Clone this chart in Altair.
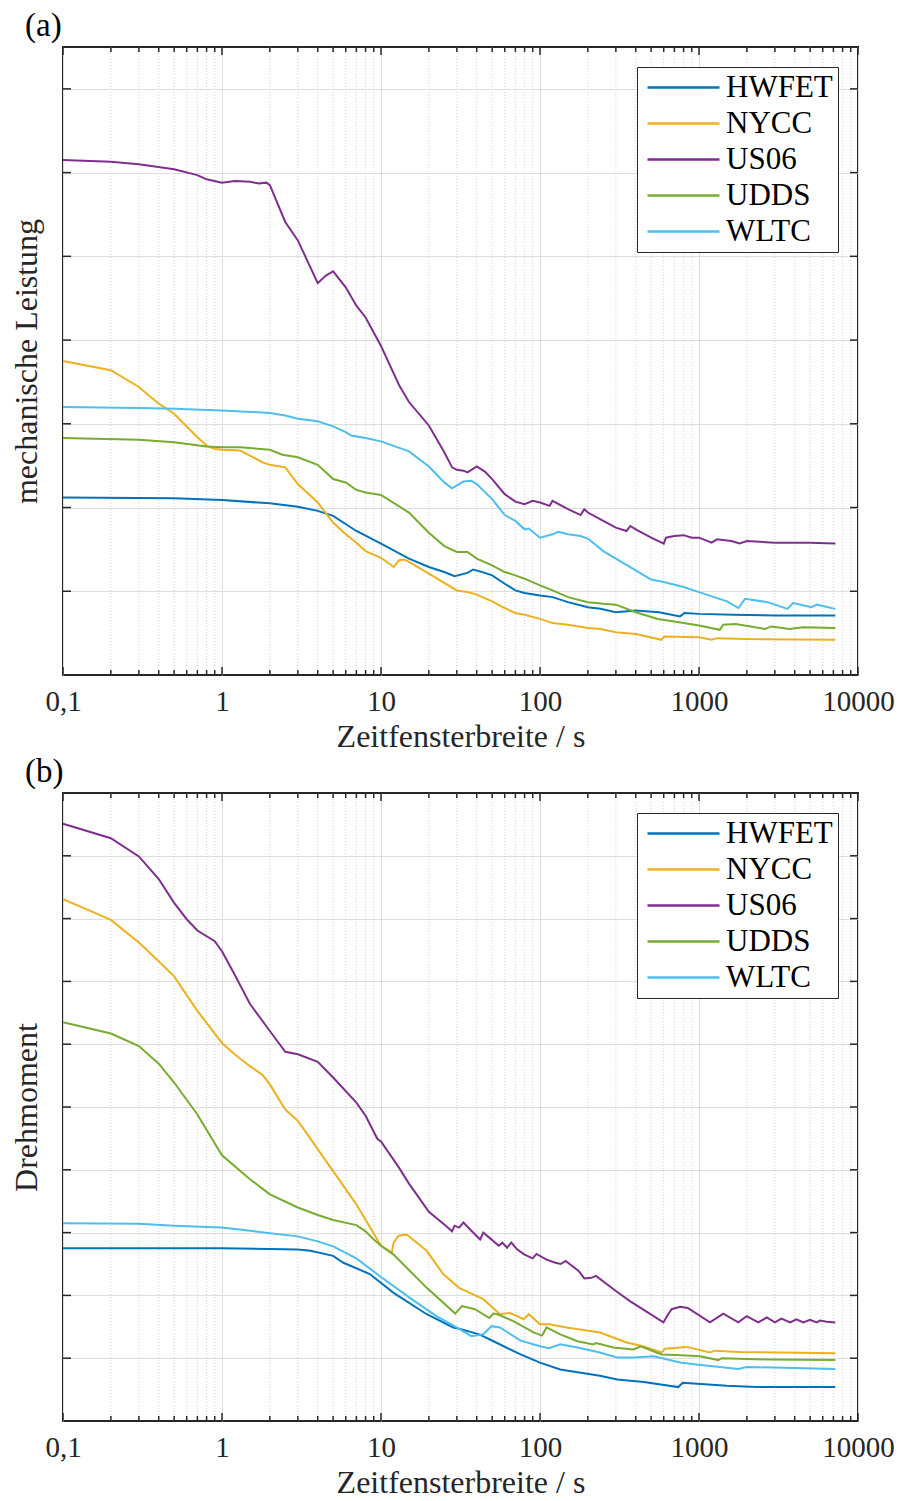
import altair as alt
import pandas as pd

# ---------------------------------------------------------------------------
# Series data: (window width in s, normalised value)
# ---------------------------------------------------------------------------
SERIES = ["HWFET", "NYCC", "US06", "UDDS", "WLTC"]
COLORS = ["#0072BD", "#EDB120", "#7E2F8E", "#77AC30", "#4DBEEE"]

# (a) mechanische Leistung
HWFET_A = [(0.1, 2.12), (0.5, 2.11), (1, 2.09), (2, 2.05), (3, 2.01), (4, 1.96), (5, 1.90),
           (7, 1.72), (10, 1.57), (15, 1.39), (20, 1.29), (25, 1.23), (29, 1.18), (35, 1.22),
           (38, 1.26), (45, 1.22), (50, 1.19), (60, 1.09), (70, 1.01), (80, 0.98), (100, 0.95),
           (120, 0.93), (150, 0.87), (200, 0.81), (240, 0.79), (300, 0.75), (400, 0.77),
           (560, 0.75), (760, 0.70), (810, 0.74), (1000, 0.73), (1650, 0.72), (3000, 0.71),
           (7200, 0.71)]
NYCC_A = [(0.1, 3.75), (0.2, 3.64), (0.3, 3.44), (0.4, 3.24), (0.5, 3.12), (0.7, 2.84),
          (0.8, 2.74), (0.9, 2.70), (1.0, 2.69), (1.3, 2.68), (1.5, 2.62), (1.8, 2.54),
          (2.0, 2.51), (2.5, 2.48), (3, 2.28), (4, 2.06), (5, 1.82), (6, 1.68), (7, 1.58),
          (8, 1.48), (10, 1.40), (12, 1.29), (13, 1.37), (14, 1.38), (15, 1.35), (20, 1.21),
          (30, 1.01), (35, 0.99), (40, 0.96), (50, 0.88), (60, 0.80), (70, 0.74), (80, 0.72),
          (100, 0.67), (120, 0.62), (150, 0.60), (200, 0.56), (240, 0.55), (300, 0.51),
          (400, 0.49), (580, 0.42), (605, 0.46), (1000, 0.45), (1200, 0.42), (1300, 0.44),
          (2000, 0.43), (7200, 0.42)]
US06_A = [(0.1, 6.15), (0.2, 6.13), (0.3, 6.10), (0.5, 6.04), (0.7, 5.97), (0.8, 5.92),
          (1, 5.88), (1.2, 5.90), (1.5, 5.89), (1.7, 5.87), (1.9, 5.88), (2.0, 5.85),
          (2.5, 5.41), (3, 5.19), (4, 4.68), (4.5, 4.77), (5, 4.82), (6, 4.63), (7, 4.41),
          (8, 4.27), (10, 3.93), (13, 3.46), (15, 3.26), (20, 2.98), (25, 2.66), (28, 2.48),
          (30, 2.45), (33, 2.44), (35, 2.42), (40, 2.49), (45, 2.43), (50, 2.34), (60, 2.16),
          (70, 2.07), (80, 2.04), (90, 2.08), (100, 2.06), (115, 2.02), (120, 2.08),
          (150, 1.98), (180, 1.91), (190, 1.98), (200, 1.94), (250, 1.84), (300, 1.76),
          (350, 1.72), (370, 1.78), (400, 1.74), (500, 1.64), (600, 1.57), (620, 1.64),
          (700, 1.66), (800, 1.67), (900, 1.64), (1000, 1.64), (1200, 1.58), (1300, 1.62),
          (1600, 1.60), (1800, 1.57), (2000, 1.60), (3000, 1.58), (5000, 1.58), (7200, 1.57)]
UDDS_A = [(0.1, 2.83), (0.3, 2.81), (0.5, 2.78), (0.8, 2.73), (1, 2.72), (1.3, 2.72),
          (2, 2.69), (2.4, 2.63), (3, 2.60), (4, 2.51), (5, 2.34), (6, 2.30), (7, 2.21),
          (8, 2.18), (10, 2.15), (15, 1.94), (20, 1.70), (25, 1.54), (30, 1.47), (35, 1.47),
          (40, 1.39), (50, 1.31), (60, 1.23), (70, 1.19), (80, 1.15), (100, 1.07),
          (120, 1.01), (150, 0.93), (200, 0.87), (250, 0.85), (300, 0.84), (400, 0.75),
          (550, 0.67), (700, 0.64), (1000, 0.59), (1350, 0.54), (1420, 0.60), (1700, 0.61),
          (2600, 0.55), (2850, 0.58), (3700, 0.55), (4500, 0.57), (7200, 0.56)]
WLTC_A = [(0.1, 3.20), (0.3, 3.19), (0.5, 3.18), (1, 3.16), (2, 3.13), (2.5, 3.10),
          (3, 3.06), (4, 3.03), (5, 2.97), (6, 2.90), (6.5, 2.86), (8, 2.83), (10, 2.79),
          (15, 2.67), (20, 2.49), (25, 2.30), (28, 2.23), (33, 2.31), (37, 2.32), (40, 2.28),
          (50, 2.10), (60, 1.91), (70, 1.84), (80, 1.74), (85, 1.75), (100, 1.64),
          (120, 1.68), (130, 1.71), (150, 1.68), (180, 1.66), (200, 1.63), (250, 1.48),
          (300, 1.39), (400, 1.25), (500, 1.14), (600, 1.11), (800, 1.05), (1000, 0.99),
          (1500, 0.88), (1770, 0.80), (1950, 0.91), (2700, 0.87), (3600, 0.79), (3900, 0.86),
          (5100, 0.81), (5500, 0.84), (7200, 0.79)]

# (b) Drehmoment
HWFET_B = [(0.1, 2.75), (1, 2.75), (3, 2.73), (3.6, 2.71), (5, 2.63), (5.8, 2.52),
           (8.5, 2.34), (12, 2.04), (19.4, 1.70), (28.5, 1.49), (31, 1.47), (41.5, 1.38),
           (51, 1.27), (75.5, 1.06), (100, 0.93), (134, 0.82), (238, 0.72), (306, 0.66),
           (450, 0.62), (740, 0.54), (790, 0.61), (1500, 0.56), (2300, 0.54), (7200, 0.54)]
NYCC_B = [(0.1, 8.31), (0.2, 7.98), (0.3, 7.62), (0.4, 7.32), (0.5, 7.08), (0.7, 6.53),
          (1.0, 6.02), (1.2, 5.84), (1.5, 5.65), (1.8, 5.51), (2.0, 5.36), (2.5, 4.96),
          (3, 4.78), (3.5, 4.54), (4, 4.33), (5, 3.98), (7, 3.45), (10, 2.79), (11.7, 2.68),
          (12, 2.84), (12.9, 2.95), (14.5, 2.97), (19.4, 2.71), (24.6, 2.34), (31, 2.12),
          (44, 1.94), (56, 1.70), (65, 1.72), (79, 1.62), (85, 1.70), (100, 1.54),
          (114, 1.54), (147, 1.49), (238, 1.41), (351, 1.25), (445, 1.19), (582, 1.09),
          (610, 1.15), (837, 1.18), (1172, 1.09), (1250, 1.12), (1807, 1.10), (7200, 1.08)]
US06_B = [(0.1, 9.51), (0.2, 9.28), (0.3, 8.99), (0.4, 8.63), (0.5, 8.25), (0.6, 7.99),
          (0.7, 7.81), (0.9, 7.64), (1.0, 7.48), (1.2, 7.11), (1.5, 6.64), (2.0, 6.21),
          (2.5, 5.88), (3, 5.84), (4, 5.72), (5, 5.47), (7, 5.07), (8, 4.86), (9.5, 4.49),
          (10, 4.45), (13, 4.03), (15, 3.78), (20, 3.33), (25, 3.13), (28, 3.02), (29, 3.11),
          (31, 3.08), (33, 3.16), (37, 3.03), (42, 2.89), (44, 3.00), (48, 2.92), (55, 2.79),
          (58, 2.84), (62, 2.76), (66, 2.84), (72, 2.73), (80, 2.65), (90, 2.59), (95, 2.66),
          (110, 2.57), (125, 2.52), (135, 2.50), (145, 2.55), (175, 2.39), (190, 2.27),
          (210, 2.28), (225, 2.31), (300, 2.07), (368, 1.91), (597, 1.57), (640, 1.70),
          (673, 1.78), (760, 1.82), (850, 1.80), (1172, 1.57), (1422, 1.71), (1766, 1.57),
          (1995, 1.67), (2360, 1.57), (2670, 1.65), (3000, 1.57), (3300, 1.63), (3740, 1.57),
          (4100, 1.62), (4530, 1.57), (4990, 1.61), (5500, 1.57), (5770, 1.60), (6350, 1.58),
          (7200, 1.57)]
UDDS_B = [(0.1, 6.35), (0.2, 6.17), (0.3, 5.97), (0.4, 5.69), (0.5, 5.39), (0.7, 4.88),
          (1.0, 4.23), (1.5, 3.85), (2, 3.61), (3, 3.40), (4, 3.28), (5, 3.20), (7, 3.12),
          (8, 3.02), (9, 2.89), (10, 2.79), (12, 2.65), (19.4, 2.12), (29.3, 1.71),
          (32.3, 1.83), (39, 1.78), (48, 1.64), (51, 1.71), (54, 1.70), (68, 1.59), (91, 1.41),
          (103, 1.36), (110, 1.49), (134, 1.38), (172, 1.27), (216, 1.22), (226, 1.24),
          (289, 1.17), (386, 1.14), (430, 1.19), (582, 1.06), (720, 1.05), (1015, 1.03),
          (1322, 0.97), (1390, 1.00), (2667, 0.98), (7200, 0.97)]
WLTC_B = [(0.1, 3.15), (0.3, 3.14), (0.5, 3.11), (1.0, 3.08), (1.5, 3.03), (2, 2.99),
          (3, 2.94), (4, 2.86), (5, 2.78), (7, 2.59), (9.8, 2.31), (15.2, 1.96), (22.3, 1.67),
          (29.9, 1.49), (37, 1.35), (44, 1.38), (49.6, 1.51), (56, 1.49), (75.5, 1.28),
          (100, 1.19), (114, 1.16), (134, 1.22), (172, 1.17), (238, 1.09), (306, 1.01),
          (386, 1.01), (519, 1.03), (760, 0.93), (963, 0.90), (1350, 0.86), (1766, 0.83),
          (1995, 0.86), (3000, 0.85), (7200, 0.83)]

PANEL_A = dict(zip(SERIES, [HWFET_A, NYCC_A, US06_A, UDDS_A, WLTC_A]))
PANEL_B = dict(zip(SERIES, [HWFET_B, NYCC_B, US06_B, UDDS_B, WLTC_B]))

# Axis tick positions
X_MAJOR = [0.1, 1, 10, 100, 1000, 10000]
X_MINOR = [m * d for d in [0.1, 1, 10, 100, 1000] for m in range(2, 10)]
Y_TICKS_A = [1, 2, 3, 4, 5, 6, 7]
Y_TICKS_B = [1, 2, 3, 4, 5, 6, 7, 8, 9]

# ---------------------------------------------------------------------------
W, H = 795, 628
FONT = "Liberation Serif"
INK = "#262626"
GRID = "#dedede"
MAJOR_LEN, MINOR_LEN = 8, 5


def long_frame(panel):
    rows = []
    for name, pts in panel.items():
        for x, y in pts:
            rows.append({"series": name, "x": x, "y": y})
    return pd.DataFrame(rows)


def make_panel(panel, tag, ytitle, ymax, yticks):
    xs = alt.Scale(type="log", domain=[0.1, 10000], nice=False)
    ys = alt.Scale(domain=[0, ymax], nice=False, zero=False)

    x_axis = alt.Axis(
        values=X_MAJOR, format="~g", labelExpr="replace(datum.label, '.', ',')",
        grid=True, gridColor=GRID, gridWidth=1, ticks=False, tickSize=0, domain=False,
        labelFont=FONT, labelFontSize=29, labelColor=INK, labelPadding=12,
        labelFlush=False, labelOverlap=False,
        title="Zeitfensterbreite / s", titleFont=FONT, titleFontSize=32,
        titleFontWeight="normal", titleColor=INK, titlePadding=5,
    )
    y_axis = alt.Axis(
        values=yticks, grid=True, gridColor=GRID, gridWidth=1, ticks=False, tickSize=0,
        labels=False, domain=False,
        title=ytitle, titleFont=FONT, titleFontSize=32, titleFontWeight="normal",
        titleColor=INK, titlePadding=20,
    )
    X = dict(field="x", type="quantitative", scale=xs, axis=x_axis)
    Y = dict(field="y", type="quantitative", scale=ys, axis=y_axis)

    minor_df = pd.DataFrame({"x": X_MINOR})
    major_df = pd.DataFrame({"x": X_MAJOR})
    ytick_df = pd.DataFrame({"y": yticks})

    # dotted minor grid at 2..9 of every decade
    minor_grid = alt.Chart(minor_df).mark_rule(
        color="#d4d4d4", strokeDash=[1, 2], strokeWidth=1
    ).encode(x=alt.X(**X), y=alt.value(0), y2=alt.value(H))

    lines = alt.Chart(long_frame(panel)).mark_line(strokeWidth=2).encode(
        x=alt.X(**X),
        y=alt.Y(**Y),
        color=alt.Color(
            "series:N", sort=SERIES,
            scale=alt.Scale(domain=SERIES, range=COLORS),
            legend=alt.Legend(
                title=None, orient="top-right", offset=20,
                symbolType="M-1,0H6.2", symbolSize=400, symbolStrokeWidth=2.5,
                labelFont=FONT, labelFontSize=31, labelColor="black", labelOffset=53,
                strokeColor=INK, fillColor="white", padding=5, rowPadding=4,
                cornerRadius=0,
            ),
        ),
    )

    # inward tick marks on all four sides
    def xticks(df, y0, y1):
        return alt.Chart(df).mark_rule(color=INK, strokeWidth=1.5).encode(
            x=alt.X(**X), y=alt.value(y0), y2=alt.value(y1))

    def yticks_at(x0, x1):
        return alt.Chart(ytick_df).mark_rule(color=INK, strokeWidth=1.5).encode(
            y=alt.Y(**Y), x=alt.value(x0), x2=alt.value(x1))

    tick_layers = [
        xticks(major_df, H, H - MAJOR_LEN), xticks(major_df, 0, MAJOR_LEN),
        xticks(minor_df, H, H - MINOR_LEN), xticks(minor_df, 0, MINOR_LEN),
        yticks_at(0, MAJOR_LEN), yticks_at(W, W - MAJOR_LEN),
    ]

    return alt.layer(minor_grid, lines, *tick_layers).properties(
        width=W, height=H,
        title=alt.TitleParams(
            tag, anchor="start", frame="group", dx=-38, font=FONT, fontSize=33,
            fontWeight="normal", color="black", offset=3,
        ),
    )


panel_a = make_panel(PANEL_A, "(a)", "mechanische Leistung", 7.5, Y_TICKS_A)
panel_b = make_panel(PANEL_B, "(b)", "Drehmoment", 10, Y_TICKS_B)

chart = (
    alt.vconcat(panel_a, panel_b, spacing=2)
    .resolve_scale(color="independent", x="independent", y="independent")
    .resolve_legend(color="independent")
    .properties(padding={"left": 9, "top": 9, "right": 0, "bottom": 0},
                background="white")
    .configure_view(stroke=INK, strokeWidth=2)
)

chart.save("out.html", embed_options={"renderer": "svg", "actions": False})
